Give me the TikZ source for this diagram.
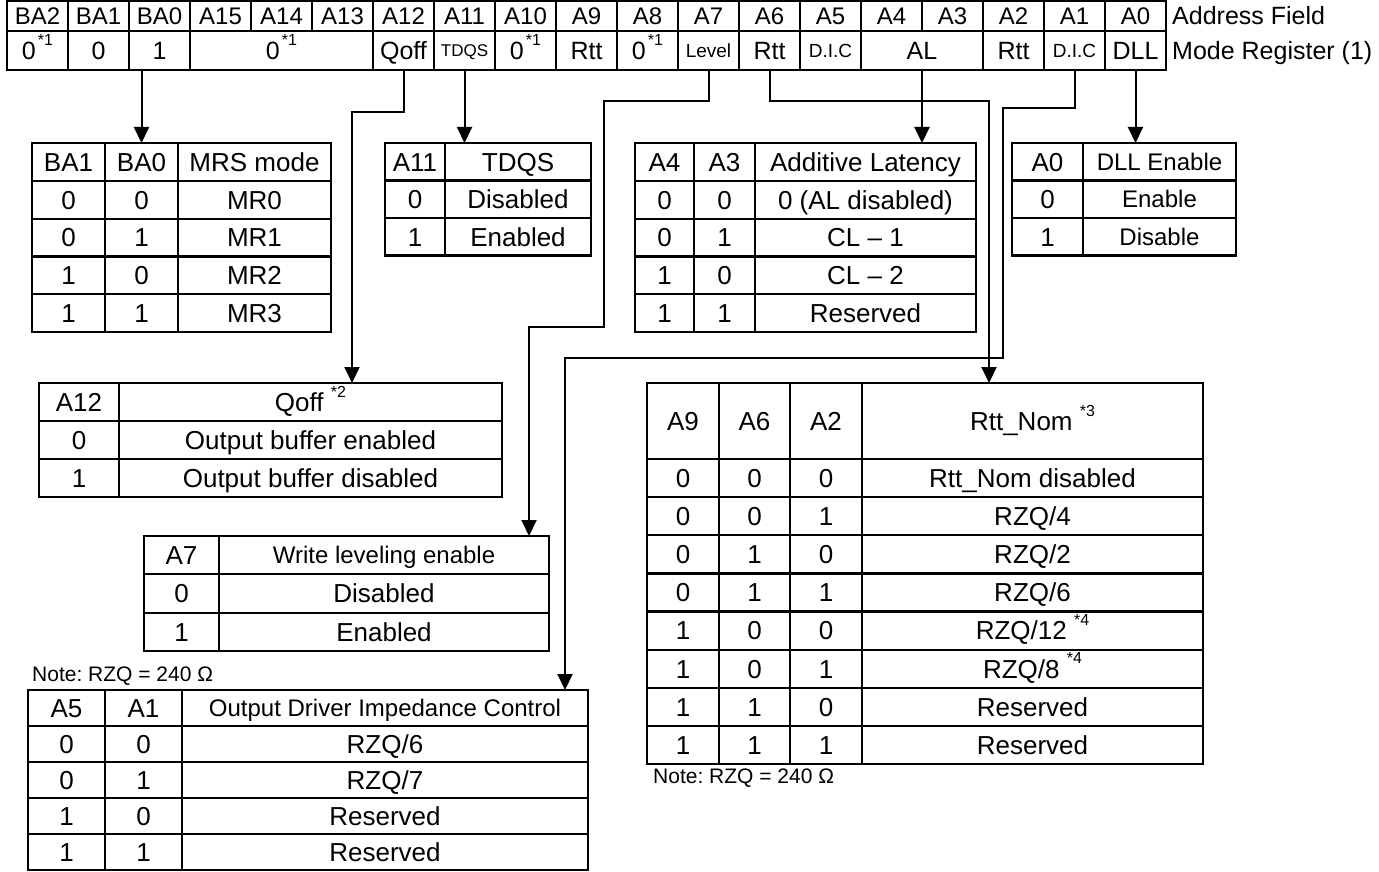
\documentclass[tikz,border=0pt]{standalone}
\usepackage{fontspec}
\setmainfont{Liberation Sans}
\usetikzlibrary{arrows.meta}
\frenchspacing
\newcommand\fs[1]{\fontsize{#1}{#1}\selectfont}
\newcommand\sups[1]{\raisebox{0.55em}{\fs{16}#1}}
\newcommand\tcell[7][]{%
  \pgfmathsetmacro\tcW{(#5)-(#3)}\pgfmathsetmacro\tcH{(#6)-(#4)}%
  \node[cell,#1,minimum width=\tcW pt,minimum height=\tcH pt] (#2) at ({((#3)+(#5))/2},{((#4)+(#6))/2}) {#7};}
\newcommand\rowII[5]{\tcell{#1a}{\xA}{#2}{\xB}{#3}{#4}\tcell[lastcol]{#1b}{\xB}{#2}{\xC}{#3}{#5}}
\newcommand\rowIII[6]{\tcell{#1a}{\xA}{#2}{\xB}{#3}{#4}\tcell{#1b}{\xB}{#2}{\xC}{#3}{#5}\tcell[lastcol]{#1c}{\xC}{#2}{\xD}{#3}{#6}}
\newcommand\rowIV[7]{\tcell{#1a}{\xA}{#2}{\xB}{#3}{#4}\tcell{#1b}{\xB}{#2}{\xC}{#3}{#5}\tcell{#1c}{\xC}{#2}{\xD}{#3}{#6}\tcell[lastcol]{#1d}{\xD}{#2}{\xE}{#3}{#7}}
\begin{document}
\begin{tikzpicture}[x=1pt,y=-1pt,
  f26/.style={font=\fs{26},text height=18.6pt,text depth=0pt},
  f25/.style={font=\fs{25},text height=17.9pt,text depth=0pt},
  f24/.style={font=\fs{24},text height=17.2pt,text depth=0pt},
  f19/.style={font=\fs{19},text height=13.6pt,text depth=0pt},
  f17/.style={font=\fs{17},text height=12.2pt,text depth=0pt},
  cell/.style={draw,line width=2.2pt,inner sep=0pt,outer sep=0pt,f26},
  reg/.style={f24},
  lastcol/.style={},
  conn/.style={line width=2pt},
  arr/.style={conn,-{Triangle[length=16pt,width=15pt]}},
  lbl/.style={anchor=west,inner sep=0pt,f25},
  note/.style={anchor=west,inner sep=0pt,font=\fs{21}}]
\useasboundingbox (0,0) rectangle (1379,872);
% ---------- register, address field ----------
\foreach \lab [count=\i from 0] in {BA2,BA1,BA0,A15,A14,A13,A12,A11,A10,A9,A8,A7,A6,A5,A4,A3,A2,A1,A0}{
  \tcell[reg]{r\i}{7+61*\i}{1}{68+61*\i}{31}{\lab}
}
% ---------- register, mode register (1) ----------
\tikzset{cell/.append style={f25}}
\tcell{mBA2}{7}{31}{68}{70}{0\hspace{2pt}\sups{*1}}
\tcell{mBA1}{68}{31}{129}{70}{0}
\tcell{mBA0}{129}{31}{190}{70}{1}
\tcell{mZ}{190}{31}{373}{70}{0\hspace{2pt}\sups{*1}}
\tcell{mA12}{373}{31}{434}{70}{Qoff}
\tcell[f17]{mA11}{434}{31}{495}{70}{TDQS}
\tcell{mA10}{495}{31}{556}{70}{0\hspace{2pt}\sups{*1}}
\tcell{mA9}{556}{31}{617}{70}{Rtt}
\tcell{mA8}{617}{31}{678}{70}{0\hspace{2pt}\sups{*1}}
\tcell[f19]{mA7}{678}{31}{739}{70}{Level}
\tcell{mA6}{739}{31}{800}{70}{Rtt}
\tcell[f19]{mA5}{800}{31}{861}{70}{D.I.C}
\tcell{mAL}{861}{31}{983}{70}{AL}
\tcell{mA2}{983}{31}{1044}{70}{Rtt}
\tcell[f19]{mA1}{1044}{31}{1105}{70}{D.I.C}
\tcell{mA0}{1105}{31}{1166}{70}{DLL}
\tikzset{cell/.append style={f26}}
\node[lbl] (laf) at (1172,16) {Address Field};
\node[lbl] (lmr) at (1172,51) {Mode Register (1)};
% ---------- MRS mode table ----------
\def\xA{32}\def\xB{105}\def\xC{178}\def\xD{331}
\rowIII{mr0}{143}{180.8}{BA1}{BA0}{MRS mode}
\rowIII{mr1}{180.8}{218.6}{0}{0}{MR0}
\rowIII{mr2}{218.6}{256.4}{0}{1}{MR1}
\rowIII{mr3}{256.4}{294.2}{1}{0}{MR2}
\rowIII{mr4}{294.2}{332}{1}{1}{MR3}
% ---------- TDQS table ----------
\def\xA{385}\def\xB{445}\def\xC{591}
\rowII{td0}{143}{180.5}{A11}{TDQS}
\rowII{td1}{180.5}{218}{0}{Disabled}
\rowII{td2}{218}{255.5}{1}{Enabled}
% ---------- Additive latency table ----------
\def\xA{635}\def\xB{694}\def\xC{755}\def\xD{976}
\rowIII{al0}{143}{180.8}{A4}{A3}{Additive Latency}
\rowIII{al1}{180.8}{218.6}{0}{0}{0 (AL disabled)}
\rowIII{al2}{218.6}{256.4}{0}{1}{CL -- 1}
\rowIII{al3}{256.4}{294.2}{1}{0}{CL -- 2}
\rowIII{al4}{294.2}{332}{1}{1}{Reserved}
% ---------- DLL table ----------
\tikzset{lastcol/.style={f24}}
\def\xA{1012}\def\xB{1083}\def\xC{1236}
\rowII{dl0}{143}{180.5}{A0}{DLL Enable}
\rowII{dl1}{180.5}{218}{0}{Enable}
\rowII{dl2}{218}{255.5}{1}{Disable}
\tikzset{lastcol/.style={}}
% ---------- Qoff table ----------
\def\xA{39}\def\xB{119}\def\xC{502}
\rowII{q0}{383}{421}{A12}{Qoff \sups{*2}}
\rowII{q1}{421}{459}{0}{Output buffer enabled}
\rowII{q2}{459}{497}{1}{Output buffer disabled}
% ---------- Write leveling table ----------
\def\xA{144}\def\xB{219}\def\xC{549}
\tikzset{lastcol/.style={f24}}
\rowII{wl0}{536}{574.3}{A7}{Write leveling enable}
\tikzset{lastcol/.style={}}
\rowII{wl1}{574.3}{612.7}{0}{Disabled}
\rowII{wl2}{612.7}{651}{1}{Enabled}
% ---------- Output driver impedance table ----------
\node[note] (n1) at (32,676) {Note: RZQ = 240 Ω};
\def\xA{28}\def\xB{105}\def\xC{182}\def\xD{588}
\tikzset{lastcol/.style={f24}}
\rowIII{od0}{690}{726}{A5}{A1}{Output Driver Impedance Control}
\tikzset{lastcol/.style={}}
\rowIII{od1}{726}{762}{0}{0}{RZQ/6}
\rowIII{od2}{762}{798}{0}{1}{RZQ/7}
\rowIII{od3}{798}{834}{1}{0}{Reserved}
\rowIII{od4}{834}{870}{1}{1}{Reserved}
% ---------- Rtt_Nom table ----------
\def\xA{647}\def\xB{719}\def\xC{790}\def\xD{862}\def\xE{1203}
\rowIV{rn0}{383}{459}{A9}{A6}{A2}{Rtt\_Nom \sups{*3}}
\rowIV{rn1}{459}{497.1}{0}{0}{0}{Rtt\_Nom disabled}
\rowIV{rn2}{497.1}{535.3}{0}{0}{1}{RZQ/4}
\rowIV{rn3}{535.3}{573.4}{0}{1}{0}{RZQ/2}
\rowIV{rn4}{573.4}{611.5}{0}{1}{1}{RZQ/6}
\rowIV{rn5}{611.5}{649.6}{1}{0}{0}{RZQ/12 \sups{*4}}
\rowIV{rn6}{649.6}{687.8}{1}{0}{1}{RZQ/8 \sups{*4}}
\rowIV{rn7}{687.8}{725.9}{1}{1}{0}{Reserved}
\rowIV{rn8}{725.9}{764}{1}{1}{1}{Reserved}
\node[note] (n2) at (653,778) {Note: RZQ = 240 Ω};
% ---------- connectors ----------
\coordinate (qA) at (352,112);
\coordinate (lv1) at (604,101);
\coordinate (lv2) at (529,327);
\coordinate (rt1) at (989,101);
\coordinate (dc1) at (1003,108);
\coordinate (dc2) at (565,358);
\draw[arr] (mBA0.south -| mr0b.north) -- (mr0b.north);
\draw[arr] (mA12.south) |- (qA) -- (qA |- q0b.north);
\draw[arr] (mA11.south) -- (mA11.south |- td0a.north);
\draw[arr] (mA7.south) |- (lv1) -- (lv1 |- lv2) -- (lv2) -- (lv2 |- wl0b.north);
\draw[arr] (mA6.south) |- (rt1) -- (rt1 |- rn0d.north);
\draw[arr] (mAL.south) -- (mAL.south |- al0c.north);
\draw[arr] (mA1.south) |- (dc1) -- (dc1 |- dc2) -- (dc2) -- (dc2 |- od0c.north);
\draw[arr] (mA0.south) -- (mA0.south |- dl0a.north);
\end{tikzpicture}
\end{document}
